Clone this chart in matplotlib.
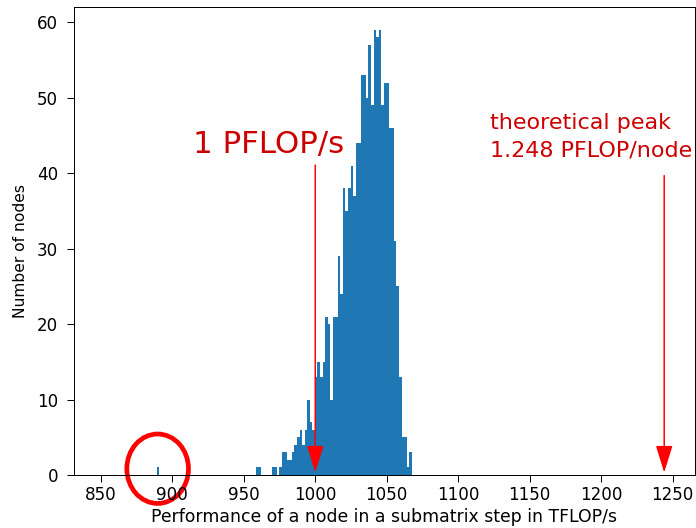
import numpy as np
import matplotlib
matplotlib.use("Agg")
import matplotlib.pyplot as plt
from matplotlib.patches import Ellipse

# histogram of node performance (TFLOP/s), 100 bins between min and max
bin_lo = 889.2
bin_hi = 1067.5
counts = [1] + [0] * 38 + [
    1, 1, 0, 0, 0, 0, 1, 1, 0, 1,            # bins 39-48
    3, 3, 2, 2, 3, 4, 5, 6, 4, 6,            # bins 49-58
    10, 7, 6, 13, 15, 13, 15, 21, 20, 10,    # bins 59-68
    21, 21, 29, 24, 38, 35, 38, 41, 37, 44,  # bins 69-78
    44, 53, 53, 50, 57, 49, 59, 58, 59, 49,  # bins 79-88
    52, 52, 46, 46, 31, 25, 13, 5, 5, 1,     # bins 89-98
    3,                                       # bin 99
]

one_pflop = 1000
peak = 1244
outlier = 889.8

edges = np.linspace(bin_lo, bin_hi, len(counts) + 1)

dpi = 89
fig = plt.figure(figsize=(696 / dpi, 528 / dpi), dpi=dpi)
ax = fig.add_axes([0.1063, 0.1004, 0.8922, 0.8854])

ax.hist(edges[:-1], bins=edges, weights=counts, color='#1f77b4')

ax.set_xlim(831.3, 1265.5)
ax.set_ylim(0, 61.95)
ax.set_xticks([850, 900, 950, 1000, 1050, 1100, 1150, 1200, 1250])
ax.tick_params(labelsize=13.5, length=5.3)
ax.tick_params(axis='x', pad=3.5)
ax.tick_params(axis='y', pad=7.5)
ax.set_xlabel('Performance of a node in a submatrix step in TFLOP/s', fontsize=14,
              labelpad=3)
ax.set_ylabel('Number of nodes', fontsize=12.5)
ax.yaxis.set_label_coords(-0.074, 0.479)

arrow = dict(arrowstyle='-|>,head_length=0.45,head_width=0.14', color='red',
             lw=1.2, mutation_scale=42)
ax.annotate('', xy=(one_pflop, 0), xytext=(one_pflop, 41.4), arrowprops=arrow)
ax.annotate('', xy=(peak, 0), xytext=(peak, 40.0), arrowprops=arrow)

ax.text(914.6, 42.7, '1 PFLOP/s', color='#cc0000', fontsize=25,
        ha='left', va='baseline')
ax.text(1122.1, 42.2, 'theoretical peak\n1.248 PFLOP/node', color='#cc0000',
        fontsize=18, ha='left', va='baseline', linespacing=1.45, clip_on=False)

ax.add_patch(Ellipse((outlier, 0.83), 43.1, 9.2, fill=False, edgecolor='red',
                     lw=3.8, clip_on=False))

fig.savefig('out.png', dpi=dpi)
